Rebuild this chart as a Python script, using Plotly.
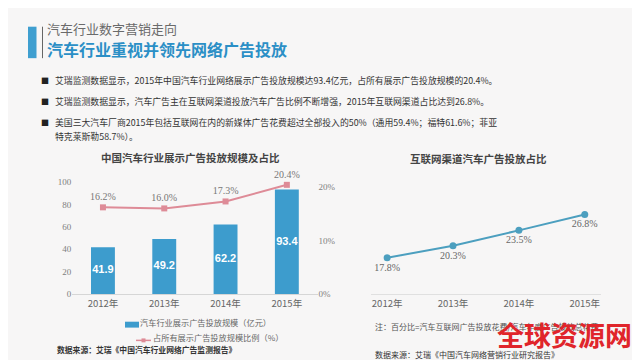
import plotly.graph_objects as go

# ---- data ----
years = ["2012年", "2013年", "2014年", "2015年"]
ad_scale = [41.9, 49.2, 62.2, 93.4]          # 亿元
ad_share = [16.2, 16.0, 17.3, 20.4]          # %
net_share = [17.8, 20.3, 23.5, 26.8]         # %
left_yticks = [0, 20, 40, 60, 80, 100]
right_yticks = [0, 10, 20]
right_yticklabels = ["0%", "10%", "20%"]

W, H = 640, 360
BG = "#f7f6f6"
BLUE = "#3d9ccd"
PINK = "#de8b97"
TEAL = "#4c9fbf"
CJK = "Noto Sans CJK SC"
SERIF = "Liberation Serif"

def px(x):
    return x / W

def py(y):
    return 1 - y / H

fig = go.Figure()

fig.add_trace(go.Bar(
    x=years, y=ad_scale, width=0.39, marker=dict(color=BLUE, line=dict(width=0)),
    xaxis="x", yaxis="y", showlegend=False, hoverinfo="skip"))

# value labels centred inside the bars
fig.add_trace(go.Scatter(
    x=years, y=[v / 2 for v in ad_scale], mode="text",
    text=[f"{v:.1f}" for v in ad_scale],
    textfont=dict(color="white", size=11, family="Liberation Sans", weight="bold"),
    xaxis="x", yaxis="y", showlegend=False, cliponaxis=False, hoverinfo="skip"))

fig.add_trace(go.Scatter(
    x=years, y=ad_share, mode="lines+markers+text",
    line=dict(color=PINK, width=2), marker=dict(color=PINK, size=6, symbol="square"),
    text=[f"{v:.1f}%" for v in ad_share], textposition="top center",
    textfont=dict(family=SERIF, size=10, color="#777777"),
    xaxis="x", yaxis="y2", showlegend=False, cliponaxis=False, hoverinfo="skip"))

fig.add_trace(go.Scatter(
    x=years, y=net_share, mode="lines+markers+text",
    line=dict(color=TEAL, width=2), marker=dict(color=TEAL, size=7),
    text=[f"{v:.1f}%" for v in net_share], textposition="bottom center",
    textfont=dict(family=SERIF, size=10, color="#666666"),
    xaxis="x2", yaxis="y3", showlegend=False, cliponaxis=False, hoverinfo="skip"))

ydom = [py(290), py(172)]
tickfont_x = dict(family=CJK, size=9.5, color="#666666")

fig.update_layout(
    width=W, height=H, autosize=False,
    margin=dict(l=0, r=0, t=0, b=0),
    paper_bgcolor=BG, plot_bgcolor="rgba(0,0,0,0)",
    showlegend=False,
    xaxis=dict(domain=[px(64.3), px(309.5)], anchor="y", showgrid=False, zeroline=False,
               showline=True, linecolor="#d6d6d6", linewidth=1, ticks="",
               tickfont=tickfont_x, fixedrange=True),
    yaxis=dict(domain=ydom, range=[0, 103.5], tickvals=left_yticks, showgrid=False,
               zeroline=False, showline=False, ticks="",
               tickfont=dict(family=SERIF, size=9, color="#808080"), fixedrange=True),
    yaxis2=dict(domain=ydom, overlaying="y", side="right", anchor="x", range=[0, 21.65],
                tickvals=right_yticks, ticktext=right_yticklabels, showgrid=False,
                zeroline=False, showline=False, ticks="",
                tickfont=dict(family=SERIF, size=9, color="#808080"), fixedrange=True),
    xaxis2=dict(domain=[px(363.3), px(592.6)], anchor="y3", showgrid=False, zeroline=False,
                showline=True, linecolor="#e0e0e0", linewidth=1, ticks="",
                tickfont=tickfont_x, fixedrange=True),
    yaxis3=dict(domain=ydom, anchor="x2", range=[10.23, 34.36], visible=False,
                fixedrange=True),
)

shapes = [
    dict(type="rect", xref="paper", yref="paper", x0=px(20), x1=px(28.5), y0=py(50), y1=py(18),
         fillcolor="#3f9fd0", line=dict(width=0)),
    dict(type="line", xref="paper", yref="paper", x0=px(34.5), x1=px(34.5), y0=py(50), y1=py(18),
         line=dict(color="#666666", width=1)),
    # legend swatches
    dict(type="rect", xref="paper", yref="paper", x0=px(117), x1=px(131), y0=py(324), y1=py(318),
         fillcolor=BLUE, line=dict(width=0)),
    dict(type="line", xref="paper", yref="paper", x0=px(128), x1=px(143), y0=py(337), y1=py(337),
         line=dict(color=PINK, width=1.5)),
    dict(type="rect", xref="paper", yref="paper", x0=px(133.5), x1=px(137.5), y0=py(339), y1=py(335),
         fillcolor=PINK, line=dict(width=0)),
]
fig.update_layout(shapes=shapes)

DY = -3

def ann(x, y, text, size, color="#333333", anchor="left", weight="normal", family=CJK):
    fig.add_annotation(x=px(x), y=py(y + DY), xref="paper", yref="paper", text=text,
                       showarrow=False, xanchor=anchor, yanchor="middle", borderpad=0,
                       font=dict(family=family, size=size, color=color, weight=weight))

ann(38, 23, "汽车行业数字营销走向", 13, "#6a6a6a")
ann(38, 44, "汽车行业重视并领先网络广告投放", 16, "#2b8fc6", weight="bold")

bullets = [
    (76, "艾瑞监测数据显示，2015年中国汽车行业网络展示广告投放规模达93.4亿元，占所有展示广告投放规模的20.4%。"),
    (97, "艾瑞监测数据显示，汽车广告主在互联网渠道投放汽车广告比例不断增强，2015年互联网渠道占比达到26.8%。"),
    (118, "美国三大汽车厂商2015年包括互联网在内的新媒体广告花费超过全部投入的50%（通用59.4%；福特61.6%；菲亚"),
]
for yy, t in bullets:
    ann(32, yy, "■", 8, "#222222")
    ann(46, yy, t, 8.85, "#333333")
ann(46, 133, "特克莱斯勒58.7%）。", 8.85, "#333333")

ann(182, 154, "中国汽车行业展示广告投放规模及占比", 10.5, "#444444", anchor="center", weight="bold")
ann(470, 155, "互联网渠道汽车广告投放占比", 10.5, "#444444", anchor="center", weight="bold")

ann(131, 321, "汽车行业展示广告投放规模（亿元）", 8.2, "#666666")
ann(144, 337, "占所有展示广告投放规模比例（%）", 8.2, "#666666")

ann(48, 349, "数据来源：艾瑞《中国汽车行业网络广告监测报告》", 7.8, "#333333", weight="bold")
ann(366, 326, "注：百分比=汽车互联网广告投放花费/汽车年度广告投放总花费", 8, "#555555")
ann(366, 354, "数据来源：艾瑞《中国汽车网络营销行业研究报告》", 8, "#333333")

ann(556, 334, "全球资源网", 27, "#e0252b", anchor="center", weight="bold")

fig.write_html("out.html")
